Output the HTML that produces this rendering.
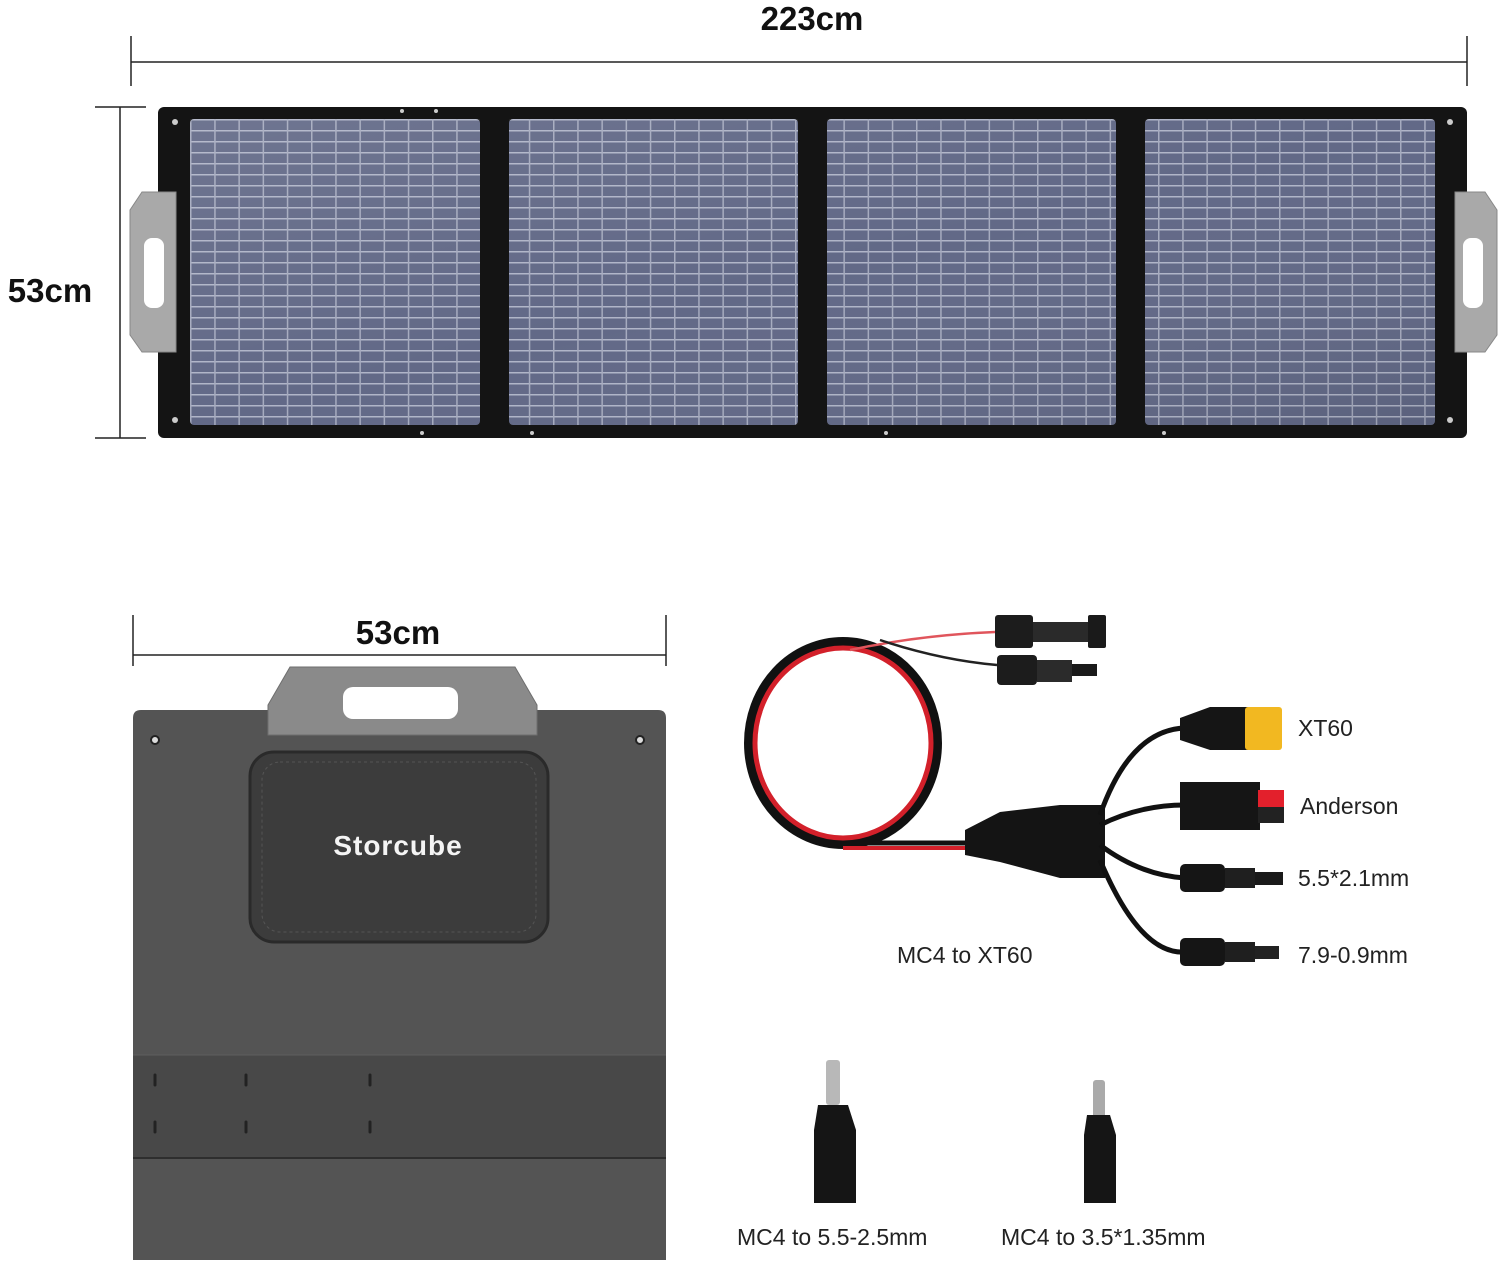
<!DOCTYPE html>
<html><head><meta charset="utf-8"><style>
html,body{margin:0;padding:0;background:#fff}
svg{display:block}
text{font-family:"Liberation Sans",sans-serif}
</style></head><body>
<svg width="1500" height="1264" viewBox="0 0 1500 1264" xmlns="http://www.w3.org/2000/svg">
<defs>
<pattern id="cells" x="190" y="119" width="24.2" height="11" patternUnits="userSpaceOnUse">
<rect width="24.2" height="11" fill="#626987"/>
<rect x="0" y="0" width="24.2" height="1.5" fill="#b0b5c8"/>
<rect x="0" y="0" width="1.5" height="11" fill="#a6abbf"/>
</pattern>
<linearGradient id="sheen" x1="0" y1="0" x2="1" y2="1">
<stop offset="0" stop-color="#fff" stop-opacity="0.08"/>
<stop offset="0.5" stop-color="#fff" stop-opacity="0"/>
<stop offset="1" stop-color="#000" stop-opacity="0.08"/>
</linearGradient>
</defs>

<text x="812" y="30" font-size="33" font-weight="bold" text-anchor="middle" fill="#111">223cm</text>
<line x1="131" y1="62" x2="1467" y2="62" stroke="#222" stroke-width="1.5"/>
<line x1="131" y1="36" x2="131" y2="86" stroke="#222" stroke-width="1.5"/>
<line x1="1467" y1="36" x2="1467" y2="86" stroke="#222" stroke-width="1.5"/>

<text x="50" y="302" font-size="33" font-weight="bold" text-anchor="middle" fill="#111">53cm</text>
<line x1="120" y1="107" x2="120" y2="438" stroke="#222" stroke-width="1.5"/>
<line x1="95" y1="107" x2="146" y2="107" stroke="#222" stroke-width="1.5"/>
<line x1="95" y1="438" x2="146" y2="438" stroke="#222" stroke-width="1.5"/>

<rect x="158" y="107" width="1309" height="331" rx="6" fill="#141414"/>
<g>
<rect x="190" y="119" width="290" height="306" rx="4" fill="url(#cells)"/>
<rect x="509" y="119" width="289" height="306" rx="4" fill="url(#cells)"/>
<rect x="827" y="119" width="289" height="306" rx="4" fill="url(#cells)"/>
<rect x="1145" y="119" width="290" height="306" rx="4" fill="url(#cells)"/>
<rect x="190" y="119" width="1245" height="306" fill="url(#sheen)"/>
</g>
<rect x="480" y="119" width="29" height="306" fill="#141414"/>
<rect x="798" y="119" width="29" height="306" fill="#141414"/>
<rect x="1116" y="119" width="29" height="306" fill="#141414"/>
<g fill="#ccc">
<circle cx="175" cy="122" r="3"/><circle cx="175" cy="420" r="3"/>
<circle cx="1450" cy="122" r="3"/><circle cx="1450" cy="420" r="3"/>
<circle cx="402" cy="111" r="2"/><circle cx="436" cy="111" r="2"/>
<circle cx="422" cy="433" r="2"/><circle cx="532" cy="433" r="2"/><circle cx="886" cy="433" r="2"/><circle cx="1164" cy="433" r="2"/>
</g>
<path d="M142 192 L176 192 L176 352 L142 352 L130 335 L130 210 Z" fill="#a9a9a9" stroke="#888"/>
<rect x="144" y="238" width="20" height="70" rx="8" fill="#fff"/>
<path d="M1455 192 L1485 192 L1497 210 L1497 335 L1485 352 L1455 352 Z" fill="#a9a9a9" stroke="#888"/>
<rect x="1463" y="238" width="20" height="70" rx="8" fill="#fff"/>

<text x="398" y="644" font-size="33" font-weight="bold" text-anchor="middle" fill="#111">53cm</text>
<line x1="133" y1="655" x2="666" y2="655" stroke="#222" stroke-width="1.5"/>
<line x1="133" y1="615" x2="133" y2="666" stroke="#222" stroke-width="1.5"/>
<line x1="666" y1="615" x2="666" y2="666" stroke="#222" stroke-width="1.5"/>

<path d="M133 718 Q133 710 141 710 L658 710 Q666 710 666 718 L666 1260 L133 1260 Z" fill="#545454"/>
<rect x="133" y="1055" width="533" height="103" fill="#484848"/>
<line x1="133" y1="1158" x2="666" y2="1158" stroke="#2e2e2e" stroke-width="2"/>
<line x1="133" y1="1055" x2="666" y2="1055" stroke="#5e5e5e" stroke-width="1"/>
<g stroke="#222" stroke-width="3" stroke-linecap="round">
<line x1="155" y1="1075" x2="155" y2="1085"/><line x1="246" y1="1075" x2="246" y2="1085"/><line x1="370" y1="1075" x2="370" y2="1085"/>
<line x1="155" y1="1122" x2="155" y2="1132"/><line x1="246" y1="1122" x2="246" y2="1132"/><line x1="370" y1="1122" x2="370" y2="1132"/>
</g>
<circle cx="155" cy="740" r="4" fill="#ddd" stroke="#222" stroke-width="2"/>
<circle cx="640" cy="740" r="4" fill="#ddd" stroke="#222" stroke-width="2"/>
<path d="M290 667 L515 667 L537 705 L537 735 L268 735 L268 705 Z" fill="#8a8a8a" stroke="#6e6e6e"/>
<rect x="343" y="687" width="115" height="32" rx="10" fill="#fff"/>
<rect x="250" y="752" width="298" height="190" rx="24" fill="#3c3c3c" stroke="#2a2a2a" stroke-width="3"/>
<rect x="262" y="762" width="274" height="170" rx="18" fill="none" stroke="#555" stroke-width="1" stroke-dasharray="3 3"/>
<text x="398" y="855" font-size="28" font-weight="bold" text-anchor="middle" fill="#f4f4f4" letter-spacing="1">Storcube</text>

<ellipse cx="843" cy="743" rx="93" ry="100" fill="none" stroke="#111" stroke-width="12"/>
<ellipse cx="843" cy="743" rx="88" ry="95" fill="none" stroke="#d3202a" stroke-width="5"/>
<path d="M843 843 L965 843" stroke="#111" stroke-width="5"/>
<path d="M843 848 L965 848" stroke="#d3202a" stroke-width="4"/>
<path d="M850 650 Q920 635 995 632" stroke="#e0555c" stroke-width="2.5" fill="none"/>
<path d="M880 640 Q940 660 997 665" stroke="#222" stroke-width="2.5" fill="none"/>
<rect x="995" y="615" width="38" height="33" rx="3" fill="#1c1c1c"/>
<rect x="1033" y="622" width="55" height="20" fill="#2a2a2a"/>
<rect x="1088" y="615" width="18" height="33" rx="2" fill="#1a1a1a"/>
<rect x="997" y="655" width="40" height="30" rx="4" fill="#1c1c1c"/>
<rect x="1037" y="660" width="35" height="22" fill="#2b2b2b"/>
<rect x="1072" y="664" width="25" height="12" fill="#1a1a1a"/>
<path d="M965 830 L1000 812 L1060 805 L1105 805 L1105 878 L1060 878 L1000 862 L965 855 Z" fill="#141414"/>
<g stroke="#111" stroke-width="5" fill="none">
<path d="M1100 815 Q1130 730 1185 728"/>
<path d="M1100 825 Q1140 805 1185 805"/>
<path d="M1100 845 Q1140 875 1185 878"/>
<path d="M1100 860 Q1140 955 1185 952"/>
</g>
<path d="M1180 718 L1210 707 L1250 707 L1250 750 L1210 750 L1180 740 Z" fill="#151515"/>
<rect x="1245" y="707" width="37" height="43" rx="3" fill="#f2b821"/>
<rect x="1180" y="782" width="80" height="48" fill="#151515"/>
<rect x="1258" y="790" width="26" height="17" fill="#e3202c"/>
<rect x="1258" y="807" width="26" height="16" fill="#222"/>
<rect x="1180" y="864" width="45" height="28" rx="5" fill="#151515"/>
<rect x="1225" y="868" width="30" height="20" fill="#1f1f1f"/>
<rect x="1255" y="872" width="28" height="13" fill="#1a1a1a"/>
<rect x="1180" y="938" width="45" height="28" rx="5" fill="#151515"/>
<rect x="1225" y="942" width="30" height="20" fill="#1f1f1f"/>
<rect x="1255" y="946" width="24" height="13" fill="#222"/>

<rect x="826" y="1060" width="14" height="45" rx="3" fill="#b8b8b8"/>
<path d="M818 1105 L848 1105 L856 1130 L856 1203 L814 1203 L814 1130 Z" fill="#151515"/>
<rect x="1093" y="1080" width="12" height="40" rx="3" fill="#aaa"/>
<path d="M1087 1115 L1110 1115 L1116 1135 L1116 1203 L1084 1203 L1084 1135 Z" fill="#151515"/>

<g font-size="23" fill="#222">
<text x="1298" y="736">XT60</text>
<text x="1300" y="814">Anderson</text>
<text x="1298" y="886">5.5*2.1mm</text>
<text x="1298" y="963">7.9-0.9mm</text>
<text x="897" y="963">MC4 to XT60</text>
<text x="737" y="1245">MC4 to 5.5-2.5mm</text>
<text x="1001" y="1245">MC4 to 3.5*1.35mm</text>
</g>
</svg>
</body></html>
